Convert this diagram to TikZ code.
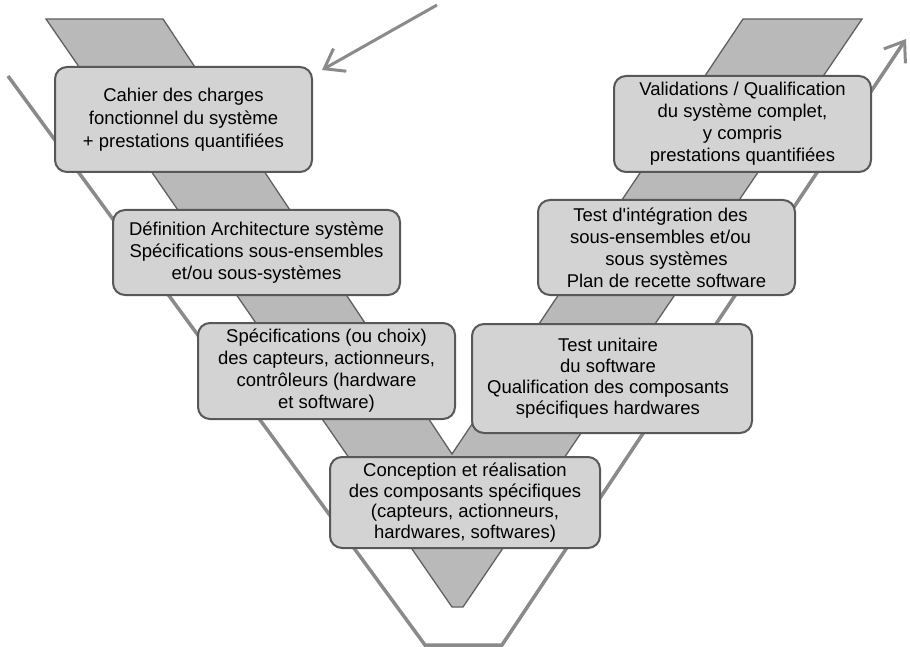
\documentclass[tikz,border=0pt]{standalone}
\usepackage{fontspec}
\setmainfont{Liberation Sans}[Ligatures=TeXOff]
\usetikzlibrary{arrows.meta}
\definecolor{bandfill}{HTML}{B9B9B9}
\definecolor{bandline}{HTML}{606060}
\definecolor{boxfill}{HTML}{D3D3D3}
\definecolor{boxline}{HTML}{585858}
\definecolor{railgray}{HTML}{8A8A8A}
\tikzset{
  phase/.style={draw=boxline, line width=2pt, fill=boxfill, rounded corners=12pt,
    inner sep=0pt, align=center, font=\fontsize{18.5}{22}\selectfont},
  rail/.style={draw=railgray, line width=3.5pt, line join=miter},
  barb/.style={-{Straight Barb[length=18pt,width=26pt,line width=3pt]}},
}
\begin{document}
\begin{tikzpicture}[x=1pt,y=-1pt]
\useasboundingbox (0,0) rectangle (910,647);
% central V band
\draw[bandline, line width=1.3pt, fill=bandfill, line join=miter]
  (46,19) -- (163,19) -- (452,454) -- (743,19) -- (862,19) -- (463,607) -- (452,607) -- cycle;
% outer V rail ending with an arrow
\coordinate (railstart) at (8,76);
\coordinate (railbl) at (425,645);
\coordinate (railbr) at (502,645);
\coordinate (railend) at (906,39);
\draw[rail, barb] (railstart) -- (railbl) -- (railbr) -- (railend);
% incoming arrow
\coordinate (instart) at (437,5);
\coordinate (inend) at (322,70);
\draw[draw=railgray, line width=3pt, barb] (instart) -- (inend);
% phase boxes
\node[phase, font=\fontsize{18.5}{23}\selectfont, minimum width=257pt, minimum height=105pt] (cdc) at (183.5,119.5)
  {Cahier des charges\\fonctionnel du système\\+ prestations quantifiées};
\node[phase, minimum width=287pt, minimum height=85pt] (arch) at (256.5,252.5)
  {Définition Architecture système\\Spécifications sous-ensembles\\et/ou sous-systèmes};
\node[phase, minimum width=257pt, minimum height=96pt] (spec) at (326.5,371)
  {Spécifications (ou choix)\\des capteurs, actionneurs,\\contrôleurs (hardware\\et software)};
\node[phase, font=\fontsize{18.5}{20.5}\selectfont, minimum width=270pt, minimum height=91pt] (conc) at (465,502.5)
  {Conception et réalisation\\des composants spécifiques\\(capteurs, actionneurs,\\hardwares, softwares)};
\node[phase, font=\fontsize{18.5}{21}\selectfont, minimum width=280pt, minimum height=109pt] (unit) at (612,378.5)
  {\hspace*{-8pt}Test unitaire\\\hspace*{-8pt}du software\\\hspace*{-8pt}Qualification des composants\\\hspace*{-8pt}spécifiques hardwares};
\node[phase, minimum width=257pt, minimum height=95pt] (integ) at (666.5,247.5)
  {\hspace*{-12pt}Test d'intégration des\\\hspace*{-12pt}sous-ensembles et/ou\\sous systèmes\\Plan de recette software};
\node[phase, minimum width=257pt, minimum height=96pt] (valid) at (742.5,124)
  {Validations / Qualification\\du système complet,\\y compris\\prestations quantifiées};
\end{tikzpicture}
\end{document}
